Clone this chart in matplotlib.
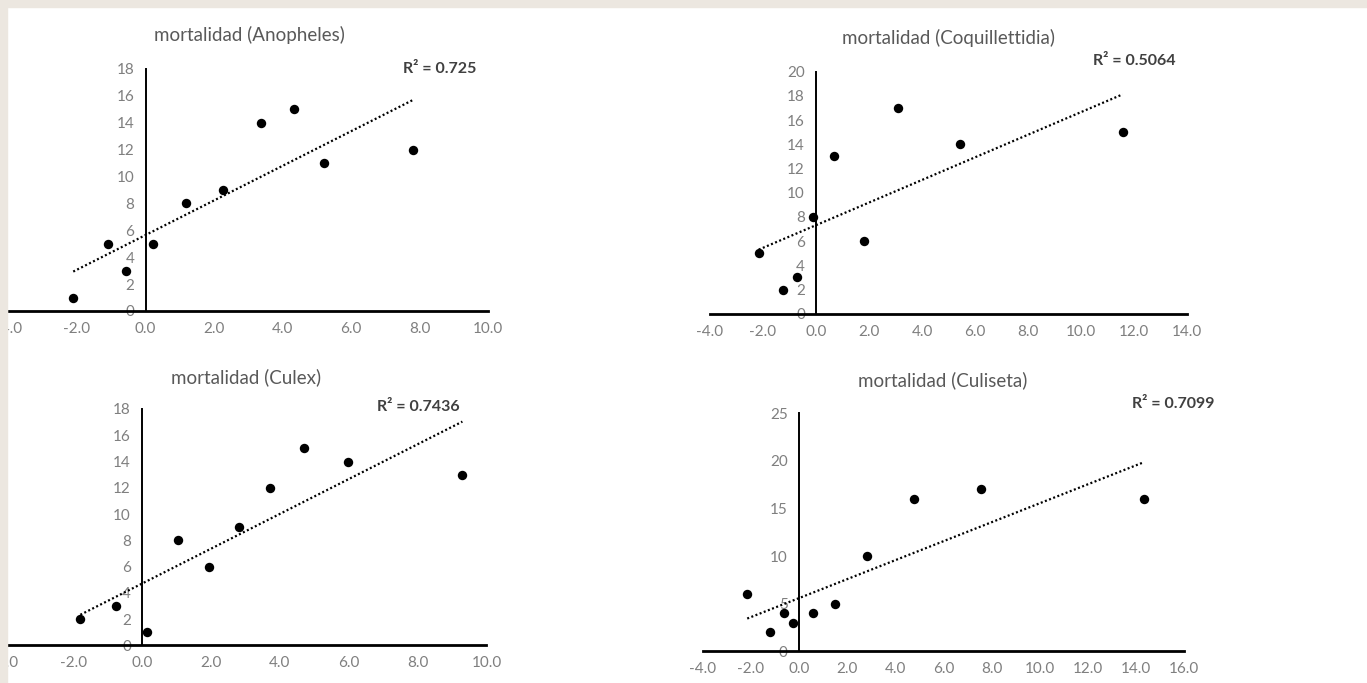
import numpy as np
import matplotlib
matplotlib.use("Agg")
import matplotlib.pyplot as plt
from matplotlib.patches import Rectangle

plt.rcParams['font.family'] = ['Lato', 'DejaVu Sans']

titles = ["mortalidad (Anopheles)", "mortalidad (Coquillettidia)",
          "mortalidad (Culex)", "mortalidad (Culiseta)"]
r2_labels = ["R² = 0.725", "R² = 0.5064", "R² = 0.7436", "R² = 0.7099"]

anopheles_x = [-2.11, -1.10, -0.57, 0.21, 1.17, 2.26, 3.38, 4.34, 5.22, 7.81]
anopheles_y = [1, 5, 3, 5, 8, 9, 14, 15, 11, 12]

coquillettidia_x = [-2.16, -1.23, -0.72, -0.13, 0.69, 1.81, 3.11, 5.42, 11.57]
coquillettidia_y = [5, 2, 3, 8, 13, 6, 17, 14, 15]

culex_x = [-1.79, -0.76, 0.15, 1.04, 1.94, 2.83, 3.72, 4.71, 5.99, 9.30]
culex_y = [2, 3, 1, 8, 6, 9, 12, 15, 14, 13]

culiseta_x = [-2.15, -1.22, -0.64, -0.25, 0.57, 1.50, 2.81, 4.76, 7.57, 14.32]
culiseta_y = [6, 2, 4, 3, 4, 5, 10, 16, 17, 16]

x_ranges = [(-4, 10), (-4, 14), (-4, 10), (-4, 16)]
y_ranges = [(0, 18), (0, 20), (0, 18), (0, 25)]
y_steps = [2, 2, 2, 5]

W, H = 1367, 683
fig = plt.figure(figsize=(W / 100, H / 100), dpi=100, facecolor='white')

def fx(px):
    return px / W

def fy(py):
    return 1 - py / H

# axes boxes in pixels: left, right, top(ymax), bottom(y=0)
boxes = [(8.5, 488, 69, 311), (710, 1187, 71.7, 313.7),
         (4.2, 486.5, 409, 645.3), (702.7, 1184, 413.3, 651.3)]
title_pos = [(249, 35), (948, 38), (246, 377), (943, 380)]
r2_pos = [(440, 69, 'center'), (1134, 61, 'center'), (418, 407, 'center'), (1132, 404, 'left')]

datasets = [(anopheles_x, anopheles_y), (coquillettidia_x, coquillettidia_y),
            (culex_x, culex_y), (culiseta_x, culiseta_y)]

tick_color = '#7f7f7f'
for i, (xs, ys) in enumerate(datasets):
    l, r, t, b = boxes[i]
    ax = fig.add_axes([fx(l), fy(b), (r - l) / W, (b - t) / H])
    ax.set_facecolor('none')
    xs = np.array(xs); ys = np.array(ys)
    ax.scatter(xs, ys, s=46, color='black', zorder=3, linewidths=0)
    slope, intercept = np.polyfit(xs, ys, 1)
    xx = np.array([xs.min(), xs.max()])
    ax.plot(xx, slope * xx + intercept, color='black', lw=1.6,
            linestyle=(0, (0.9, 1.1)), zorder=2)
    ax.set_xlim(*x_ranges[i])
    ax.set_ylim(*y_ranges[i])
    xt = np.arange(x_ranges[i][0], x_ranges[i][1] + 0.1, 2)
    ax.set_xticks(xt)
    ax.set_xticklabels([f"{v:.1f}" for v in xt])
    ax.set_yticks(np.arange(y_ranges[i][0], y_ranges[i][1] + 0.1, y_steps[i]))
    ax.spines['left'].set_position(('data', 0))
    ax.spines['bottom'].set_position(('data', 0))
    ax.spines['right'].set_visible(False)
    ax.spines['top'].set_visible(False)
    ax.spines['bottom'].set_linewidth(2.0)
    ax.spines['left'].set_linewidth(1.4)
    ax.spines['bottom'].set_zorder(4)
    ax.tick_params(axis='both', length=0, labelsize=11, colors=tick_color)
    ax.tick_params(axis='y', pad=8)
    ax.tick_params(axis='x', pad=8)
    tx, ty = title_pos[i]
    fig.text(fx(tx), fy(ty), titles[i], ha='center', va='center',
             fontsize=13.5, color='#595959')
    rx, ry, ha = r2_pos[i]
    fig.text(fx(rx), fy(ry), r2_labels[i], ha=ha, va='center',
             fontsize=11.5, color='#404040', fontweight='bold')

# beige border strips (top and left)
beige = '#ece7e0'
fig.patches.append(Rectangle((0, fy(7)), 1, 1 - fy(7), transform=fig.transFigure,
                             color=beige, zorder=100))
fig.patches.append(Rectangle((0, 0), fx(7), 1, transform=fig.transFigure,
                             color=beige, zorder=100))

fig.savefig("out.png", dpi=100, facecolor='white')
